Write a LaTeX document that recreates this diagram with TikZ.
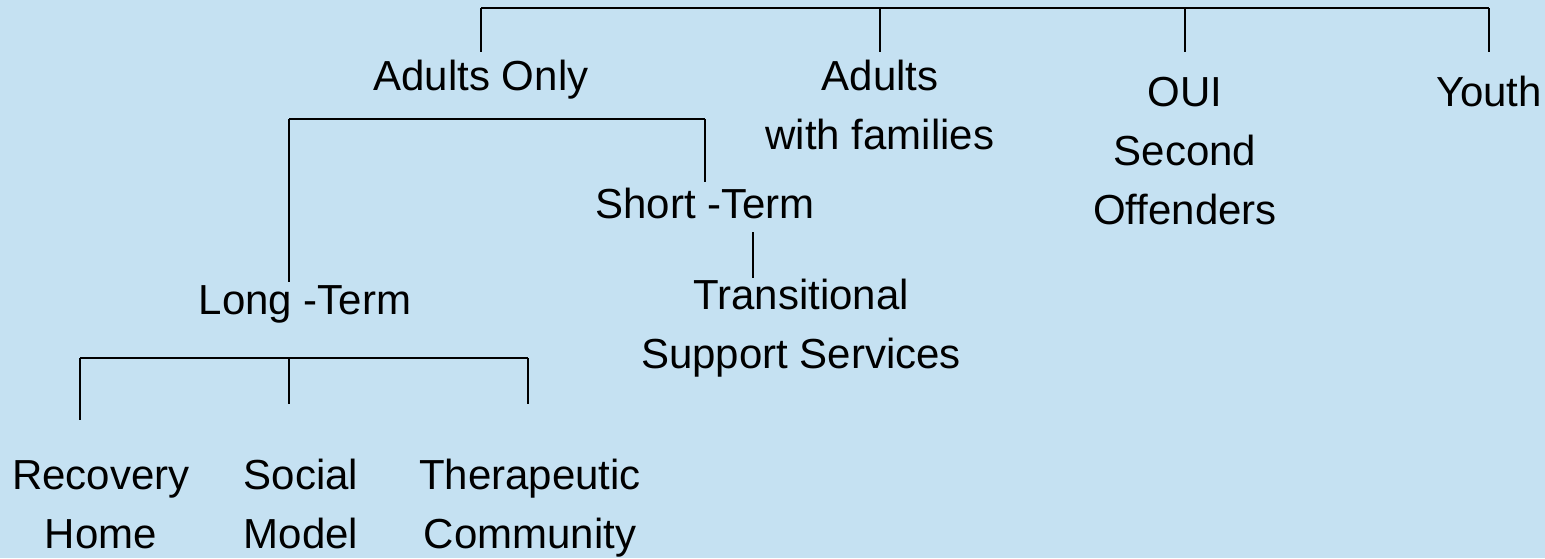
\documentclass[tikz,border=0pt]{standalone}
\usepackage{fontspec}
\setmainfont{Liberation Sans}
\definecolor{bgblue}{RGB}{197,225,242}
\begin{document}
\begin{tikzpicture}[x=1pt,y=-1pt,
  lbl/.style={anchor=base,align=center,inner sep=0pt,font=\fontsize{42}{59}\selectfont,text=black},
  conn/.style={draw=black,line width=2pt}]
\fill[bgblue] (0,0) rectangle (1545,558);
\useasboundingbox (0,0) rectangle (1545,558);
% nodes (anchor base = baseline of the last line)
\node[lbl] (adonly) at (481,90) {Adults Only};
\node[lbl] (adfam) at (880,149) {Adults\\with families};
\node[lbl] (oui) at (1185,224) {OUI\\Second\\Offenders};
\node[lbl] (youth) at (1489,106) {Youth};
\node[lbl] (short) at (705,218) {Short -Term};
\node[lbl] (trans) at (801,368) {Transitional\\Support Services};
\node[lbl] (long) at (305,314) {Long -Term};
\node[lbl] (recov) at (101,548) {Recovery\\Home};
\node[lbl] (social) at (301,548) {Social\\Model};
\node[lbl] (thera) at (530,548) {Therapeutic\\Community};
% coordinates
\coordinate (t1) at (481,8);  \coordinate (e1) at (481,52);
\coordinate (t2) at (880,8);  \coordinate (e2) at (880,52);
\coordinate (t3) at (1185,8); \coordinate (e3) at (1185,52);
\coordinate (t4) at (1489,8); \coordinate (e4) at (1489,52);
\coordinate (s1) at (289,119); \coordinate (f1) at (289,282);
\coordinate (s2) at (705,119); \coordinate (f2) at (705,182);
\coordinate (g1) at (753,232); \coordinate (g2) at (753,278);
\coordinate (u1) at (80,358);  \coordinate (h1) at (80,420);
\coordinate (u2) at (289,358); \coordinate (h2) at (289,404);
\coordinate (u3) at (528,358); \coordinate (h3) at (528,404);
% connectors
\draw[conn] (t1) -- (t4);
\draw[conn] (t1) -- (e1);
\draw[conn] (t2) -- (e2);
\draw[conn] (t3) -- (e3);
\draw[conn] (t4) -- (e4);
\draw[conn] (s1) -- (s2);
\draw[conn] (s1) -- (f1);
\draw[conn] (s2) -- (f2);
\draw[conn] (g1) -- (g2);
\draw[conn] (u1) -- (u3);
\draw[conn] (u1) -- (h1);
\draw[conn] (u2) -- (h2);
\draw[conn] (u3) -- (h3);
\end{tikzpicture}
\end{document}
